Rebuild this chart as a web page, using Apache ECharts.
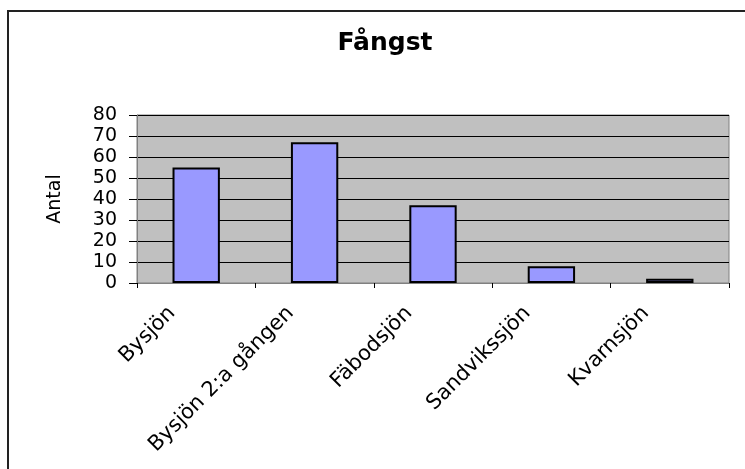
<!DOCTYPE html>
<html>
<head>
<meta charset="utf-8">
<script src="https://cdn.jsdelivr.net/npm/echarts@6/dist/echarts.min.js"></script>
<style>
  html, body { margin: 0; padding: 0; background: #fff; }
  #chart { width: 745px; height: 469px; }
</style>
</head>
<body>
<div id="chart"></div>
<script>
const categories = ['Bysjön', 'Bysjön 2:a gången', 'Fäbodsjön', 'Sandvikssjön', 'Kvarnsjön'];
const antal = [55, 67, 37, 8, 2];
const yTicks = [0, 10, 20, 30, 40, 50, 60, 70, 80];

const chart = echarts.init(document.getElementById('chart'));

const option = {
  backgroundColor: '#fff',
  textStyle: { fontFamily: 'DejaVu Sans, Arial, sans-serif' },
  animation: false,
  title: {
    text: 'Fångst',
    left: 380,
    top: 26,
    textAlign: 'center',
    textStyle: { fontSize: 25, fontWeight: 'bold', color: '#000' },
  },
  // only the left and top edge of the frame are visible
  graphic: [
    {
      type: 'polyline',
      shape: { points: [[8, 469], [8, 11], [745, 11]] },
      style: { fill: 'none', stroke: '#222', lineWidth: 2 },
      silent: true,
    },
  ],
  grid: {
    left: 137,
    right: 16,
    top: 115,
    bottom: 186,
    show: true,
    backgroundColor: '#C0C0C0',
    borderColor: '#808080',
    borderWidth: 1,
  },
  xAxis: {
    type: 'category',
    data: categories,
    axisLine: { lineStyle: { color: '#808080', width: 1 } },
    axisTick: { show: true, length: 5, lineStyle: { color: '#000' } },
    axisLabel: {
      interval: 0,
      rotate: 45,
      fontSize: 21,
      color: '#000',
      margin: 3,
      padding: [0, 34, 0, 0],
    },
  },
  yAxis: {
    type: 'value',
    min: yTicks[0],
    max: yTicks[yTicks.length - 1],
    interval: 10,
    name: 'Antal',
    nameLocation: 'middle',
    nameGap: 72,
    nameTextStyle: { fontSize: 19, color: '#000' },
    axisLine: { show: true, lineStyle: { color: '#808080' } },
    axisTick: { show: true, length: 8, lineStyle: { color: '#000' } },
    axisLabel: { fontSize: 19, color: '#000', margin: 20 },
    splitLine: { show: true, lineStyle: { color: '#000', width: 1 } },
  },
  series: [
    {
      type: 'bar',
      data: antal,
      barCategoryGap: '60%',
      itemStyle: {
        color: '#9999FF',
        borderColor: '#000',
        borderWidth: 2,
      },
    },
  ],
};

chart.setOption(option);
</script>
</body>
</html>
